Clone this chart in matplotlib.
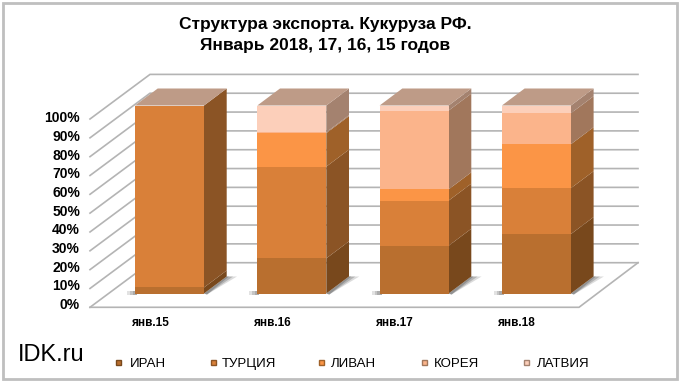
import matplotlib
matplotlib.use("Agg")
import matplotlib.pyplot as plt
from matplotlib.patches import Polygon, Rectangle

categories = ["янв.15", "янв.16", "янв.17", "янв.18"]
series_names = ["ИРАН", "ТУРЦИЯ", "ЛИВАН", "КОРЕЯ", "ЛАТВИЯ"]
iran = [3.2, 18.7, 25.4, 31.6]
turkey = [96.8, 48.8, 24.0, 24.4]
lebanon = [0.0, 17.8, 6.0, 23.4]
korea = [0.0, 0.5, 41.9, 16.5]
latvia = [0.0, 14.2, 2.7, 4.1]
series = [iran, turkey, lebanon, korea, latvia]
tick_values = list(range(0, 101, 10))

front_cols = ["#B96F2F", "#D98039", "#FB9546", "#FBB48B", "#FCCFBA"]
side_cols = ["#78481C", "#8B5425", "#9F6129", "#A1775C", "#A4826F"]
top_col = "#BE9B87"
grid_col = "#B4B4B4"

BAR_Y0, BAR_H = 293.5, 188.0
BAR_X0, BAR_W, BAR_STEP = 135.0, 69.0, 122.3
DX, DY = 22.7, -17.0
FX0, FX1, FY0 = 90.0, 579.0, 307.3
BX0, BX1, BY0 = 150.0, 638.0, 262.7
GH = 188.3

plt.rcParams["font.family"] = ["Liberation Sans", "DejaVu Sans"]
fig = plt.figure(figsize=(6.8, 3.85), dpi=100)
ax = fig.add_axes([0, 0, 1, 1])
ax.set_xlim(0, 680)
ax.set_ylim(385, 0)
ax.axis("off")

# frame
ax.add_patch(Rectangle((2.5, 2.5), 674, 376.5, fill=False, ec="#BFBFBF", lw=2))

# walls and floor
for v in tick_values:
    yb = BY0 - GH * v / 100
    yf = FY0 - GH * v / 100
    ax.plot([FX0, BX0, BX1], [yf, yb, yb], color=grid_col, lw=1.2, zorder=1, solid_joinstyle="miter")
ax.plot([FX0, FX1, BX1], [FY0, FY0, BY0], color=grid_col, lw=1.2, zorder=1)

# bars
for i in range(len(categories)):
    x0 = BAR_X0 + i * BAR_STEP
    x1 = x0 + BAR_W
    for dx, a in ((33, 0.18), (29, 0.25), (25, 0.3)):
        ax.add_patch(Polygon([(x1, BAR_Y0), (x1 + DX, BAR_Y0 + DY), (x1 + dx, BAR_Y0 + DY),
                              (x1 + 3, BAR_Y0 + 1)], fc="#404040", ec="none", alpha=a, zorder=2))
    for w, a in ((8, 0.2), (5, 0.25), (2.5, 0.3)):
        ax.add_patch(Rectangle((x0 - w, BAR_Y0 - 3), w + 2, 4, fc="#707070", ec="none", alpha=a, zorder=2))
    base = 0.0
    for s, vals in enumerate(series):
        v = vals[i]
        if v <= 0:
            continue
        y_lo = BAR_Y0 - BAR_H * base / 100
        y_hi = BAR_Y0 - BAR_H * (base + v) / 100
        ax.add_patch(Polygon([(x1, y_lo), (x1 + DX, y_lo + DY), (x1 + DX, y_hi + DY), (x1, y_hi)],
                             fc=side_cols[s], ec="none", zorder=3))
        ax.add_patch(Rectangle((x0, y_hi), BAR_W, y_lo - y_hi, fc=front_cols[s], ec="none", zorder=4))
        base += v
    y_top = BAR_Y0 - BAR_H * base / 100
    ax.add_patch(Polygon([(x0, y_top), (x1, y_top), (x1 + DX, y_top + DY), (x0 + DX, y_top + DY)],
                         fc=top_col, ec="none", zorder=4))

# axis labels
for v in tick_values:
    ax.text(80, 305 - 1.865 * v, f"{v}%", ha="right", va="center", fontsize=10,
            fontweight="bold", color="black", zorder=5)
for i, c in enumerate(categories):
    ax.text(150 + 122 * i, 326.5, c, ha="center", va="baseline", fontsize=8.5,
            fontweight="bold", color="black")

# legend
leg_mark_x = [118, 213, 321, 424, 526]
leg_text_x = [130, 222, 331, 434, 537]
for s, name in enumerate(series_names):
    ax.add_patch(Rectangle((leg_mark_x[s] - 2.5, 360), 5, 5, fc=front_cols[s], ec=side_cols[s], lw=1))
    ax.text(leg_text_x[s], 367, name, ha="left", va="baseline", fontsize=9.5, color="black")

ax.text(18, 361, "IDK.ru", ha="left", va="baseline", fontsize=17, color="black")
ax.text(325, 29, "Структура экспорта. Кукуруза РФ.", ha="center", va="baseline", fontsize=12.5,
        fontweight="bold", color="black")
ax.text(325, 50, "Январь 2018, 17, 16, 15 годов", ha="center", va="baseline", fontsize=12.5,
        fontweight="bold", color="black")

fig.savefig("out.png", dpi=100)
